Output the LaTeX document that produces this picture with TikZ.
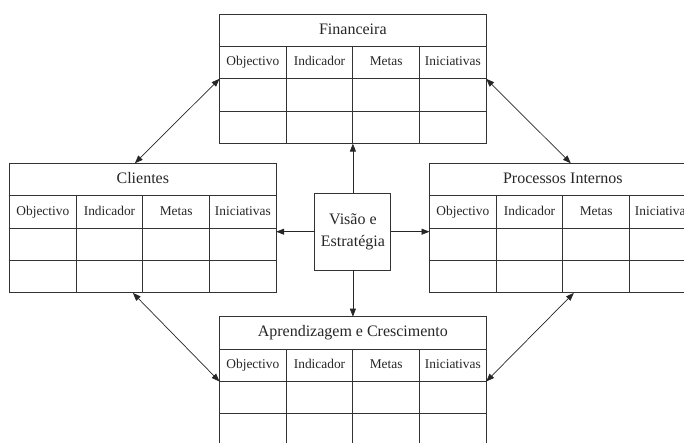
\documentclass[tikz,border=0pt]{standalone}
\usepackage{fontspec}
\setmainfont{Liberation Serif}
\usetikzlibrary{arrows.meta,calc}

% dimensions of one scorecard table (pt)
\def\colw{66.67}
\def\rowh{32.4}

\tikzset{
  gridline/.style={draw=black!80, line width=0.9pt},
  tblframe/.style={gridline, inner sep=0pt, outer sep=0pt,
    minimum width={4*\colw pt}, minimum height={4*\rowh pt}, anchor=north west},
  titlecell/.style={gridline, inner sep=0pt, outer sep=0pt,
    minimum width={4*\colw pt}, minimum height={\rowh pt}, anchor=north west,
    text height=11.5pt, text depth=3.5pt,
    font=\fontsize{16}{19}\selectfont, text=black!85},
  gridcell/.style={gridline, inner sep=0pt, outer sep=0pt,
    minimum width={\colw pt}, minimum height={\rowh pt}, anchor=north west,
    text height=9.6pt, text depth=3pt,
    font=\fontsize{13.4}{15}\selectfont, text=black!85},
  centrebox/.style={gridline, inner sep=0pt, outer sep=0pt, minimum width=76pt,
    minimum height=77pt, align=center, font=\fontsize{16}{22}\selectfont, text=black!85},
  link/.style={draw=black!85, line width=0.7pt, -{Triangle[length=8pt,width=6pt]}},
  duallink/.style={draw=black!85, line width=0.7pt,
    {Triangle[length=8pt,width=6pt]}-{Triangle[length=8pt,width=6pt]}}
}

% #1 name, #2 x, #3 y, #4 title
\newcommand\bsctable[4]{%
  \node[tblframe] (#1) at (#2,#3) {};
  \node[titlecell] (#1-t) at (#1.north west) {#4};
  \foreach [count=\i] \lab in {Objectivo,Indicador,Metas,Iniciativas} {
    \node[gridcell] (#1-h\i) at ($(#1-t.south west)+({(\i-1)*\colw},0)$) {\lab};
    \node[gridcell] (#1-a\i) at (#1-h\i.south west) {};
    \node[gridcell] (#1-b\i) at (#1-a\i.south west) {};
  }%
}

\begin{document}
\begin{tikzpicture}[x=1pt, y=-1pt]
  \useasboundingbox (0,0) rectangle (684,443);
  \clip (0,0) rectangle (684,443);

  \bsctable{fin}{219.5}{14}{Financeira}
  \bsctable{cli}{9.5}{163.3}{Clientes}
  \bsctable{pro}{429.5}{163.3}{Processos Internos}
  \bsctable{apr}{219.5}{316.7}{Aprendizagem e Crescimento}

  \node[centrebox] (vis) at (352.9,231.7) {Visão e\\Estratégia};

  % from the vision to each perspective
  \draw[link] (vis.north) -- (vis.north |- fin.south);
  \draw[link] (vis.south) -- (vis.south |- apr.north);
  \draw[link] (vis.west) -- (vis.west -| cli.east);
  \draw[link] (vis.east) -- (vis.east -| pro.west);

  % links between neighbouring perspectives
  \draw[duallink] (fin-h1.south west) -- ($(cli.north)+(-8,0)$);
  \draw[duallink] (fin-h4.south east) -- ($(pro.north)+(8,0)$);
  \draw[duallink] ($(cli.south)+(-10,0)$) -- (apr-h1.south west);
  \draw[duallink] ($(pro.south)+(11,0)$) -- (apr-h4.south east);
\end{tikzpicture}
\end{document}
